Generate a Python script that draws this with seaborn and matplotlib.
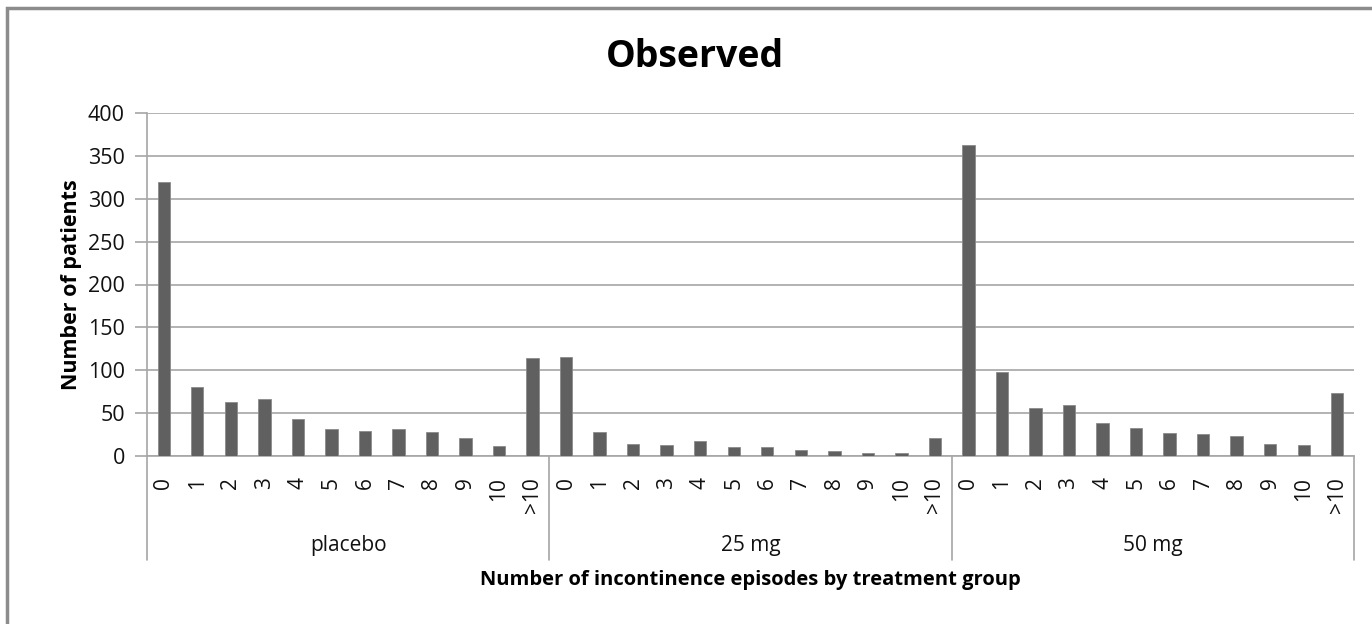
import matplotlib
matplotlib.use("Agg")
import matplotlib.pyplot as plt
import matplotlib.transforms as mtransforms
from matplotlib.patches import Rectangle
import seaborn as sns
import pandas as pd

# ---- data ----
groups = ["placebo", "25 mg", "50 mg"]
episodes = ["0", "1", "2", "3", "4", "5", "6", "7", "8", "9", "10", ">10"]
placebo = [320, 81, 63, 67, 43, 31, 29, 31, 28, 21, 12, 114]
mg25 = [116, 28, 14, 13, 17, 10, 10, 7, 6, 3, 3, 21]
mg50 = [363, 98, 56, 59, 38, 33, 27, 26, 23, 14, 13, 74]
yticks = [0, 50, 100, 150, 200, 250, 300, 350, 400]

title = "Observed"
ylabel = "Number of patients"
xlabel = "Number of incontinence episodes by treatment group"

sns.set_theme(style="white")
plt.rcParams["font.family"] = ["Open Sans", "DejaVu Sans"]
plt.rcParams["text.color"] = "black"

rows = []
for g, vals in zip(groups, [placebo, mg25, mg50]):
    for e, v in zip(episodes, vals):
        rows.append({"group": g, "episode": e, "key": f"{g}|{e}", "count": v})
df = pd.DataFrame(rows)
order = list(df["key"])

W, H = 1372, 624
fig = plt.figure(figsize=(W / 100, H / 100), dpi=100)
ax = fig.add_axes([147 / W, 1 - 456 / H, (1354 - 147) / W, (456 - 113) / H])

sns.barplot(data=df, x="key", y="count", order=order, color="#606060",
            width=0.37, saturation=1, edgecolor="#8a8a8a", linewidth=0.6,
            ax=ax, zorder=3)

ax.set_ylim(0, 400)
ax.set_xlim(-0.5, len(order) - 0.5)
ax.set_yticks(yticks)
ax.set_yticklabels([str(t) for t in yticks], fontsize=15.5, color="#111111")
ax.yaxis.grid(True, color="#a6a6a6", linewidth=1.2, zorder=0)
ax.set_axisbelow(True)
ax.tick_params(axis="y", which="major", direction="out", length=9, width=1.2,
               color="#a6a6a6", left=True, pad=7)
ax.set_xticks(range(len(order)))
ax.set_xticklabels(list(df["episode"]), rotation=90, fontsize=15, color="#111111")
ax.tick_params(axis="x", length=0, pad=15)
ax.set_xlabel("")
ax.set_ylabel(ylabel, fontsize=15.5, fontweight="bold", labelpad=4, color="black")
for side in ["top", "right"]:
    ax.spines[side].set_visible(False)
for side in ["left", "bottom"]:
    ax.spines[side].set_color("#a6a6a6")
    ax.spines[side].set_linewidth(1.2)

# group dividers and labels
trans = mtransforms.blended_transform_factory(ax.transData, ax.transAxes)
n = len(episodes)
bottom_frac = -(560 - 456) / (456 - 113)
for i in range(len(groups) + 1):
    b = i * n - 0.5
    ax.plot([b, b], [0, bottom_frac], transform=trans, color="#a6a6a6",
            lw=1.2, clip_on=False)
label_frac = -(546 - 456) / (456 - 113)
for i, g in enumerate(groups):
    ax.text(i * n + (n - 1) / 2, label_frac, g, transform=trans, ha="center",
            va="center", fontsize=15, color="#111111")

fig.text((147 + 1354) / 2 / W, 1 - 580 / H, xlabel, ha="center", va="center",
         fontsize=14.5, fontweight="bold", color="black")
fig.text(695 / W, 1 - 57 / H, title, ha="center", va="center",
         fontsize=27, fontweight="bold", color="black")

fig.add_artist(Rectangle((7 / W, -0.1), 2, 1 - 8 / H + 0.1,
                         transform=fig.transFigure, fill=False,
                         edgecolor="#8c8c8c", lw=2.5))

fig.savefig("out.png", dpi=100)
